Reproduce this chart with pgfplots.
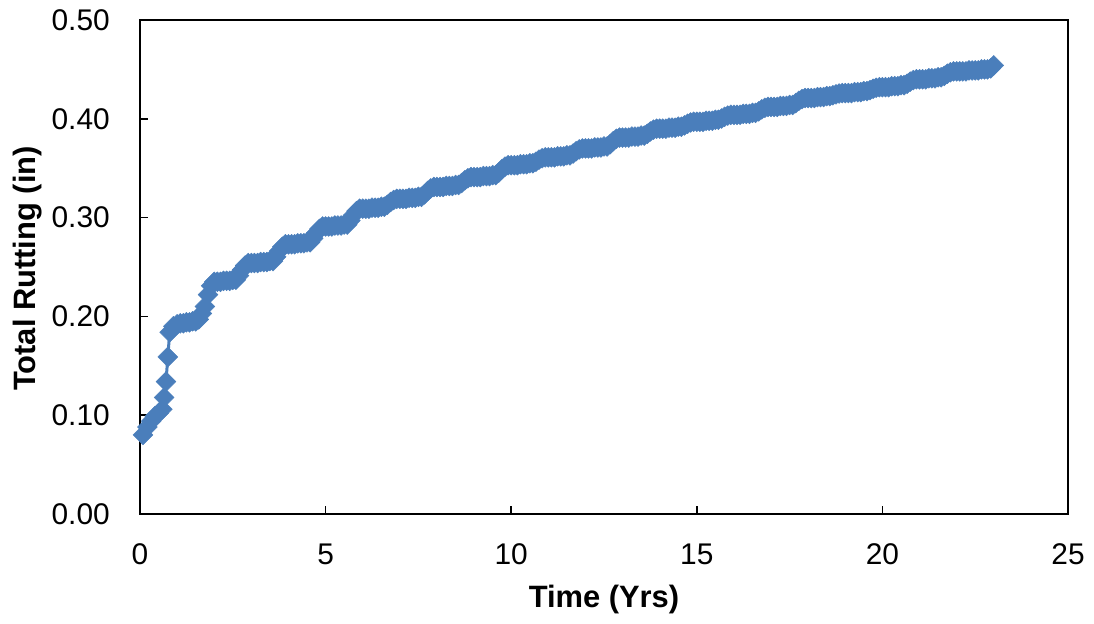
\documentclass[border=0pt]{standalone}
\usepackage{fontspec}
\setmainfont{Liberation Sans}
\usepackage{pgfplots}
\pgfplotsset{compat=1.18}
\definecolor{rutblue}{RGB}{74,126,187}
\begin{document}
\begin{tikzpicture}
\useasboundingbox (0,0) rectangle (1094bp,624bp);
\begin{axis}[
  at={(140bp,110bp)}, anchor=south west,
  width=928bp, height=494bp, scale only axis,
  xmin=0, xmax=25, ymin=0, ymax=0.5,
  xtick={0,5,...,25}, ytick={0,0.1,...,0.5},
  xtick pos=bottom, ytick pos=left, tick align=inside,
  major tick length=8bp,
  axis line style={line width=1.6bp},
  every tick/.style={black, line width=1.6bp},
  /pgf/number format/assume math mode=true,
  yticklabel style={/pgf/number format/fixed, /pgf/number format/fixed zerofill, /pgf/number format/precision=2},
  yticklabel style={anchor=east, inner sep=0pt, xshift=-30bp},
  xticklabel style={anchor=center, inner sep=0pt, yshift=-40bp},
  tick label style={font=\fontsize{30}{34}\selectfont},
  xlabel={Time (Yrs)}, ylabel={Total Rutting (in)},
  label style={font=\bfseries\fontsize{31}{36}\selectfont},
  xlabel style={at={(axis description cs:0.5,-0.174)}, anchor=center},
  ylabel style={at={(axis description cs:-0.1207,0.497)}, anchor=center},
]
\addplot[rutblue, line width=3bp, mark=square*, mark size=7bp,
  mark options={rotate=45, fill=rutblue, draw=rutblue, line width=0.5bp}] coordinates {
(0.08,0.080)(0.2,0.088)(0.3,0.094)(0.4,0.099)(0.5,0.102)(0.6,0.106)(0.65,0.118)(0.7,0.134)(0.75,0.159)(0.8,0.184)(0.9,0.190)(1.0,0.192)
(1.083,.193)(1.167,.193)(1.25,.194)(1.333,.194)(1.417,.195)(1.5,.195)(1.583,.197)(1.667,.203)(1.75,.210)(1.833,.222)(1.917,.231)(2,.235)
(2.083,.235)(2.167,.235)(2.25,.236)(2.333,.236)(2.417,.236)(2.5,.237)(2.583,.237)(2.667,.2413)(2.75,.2472)(2.833,.2515)(2.917,.254)(3,.254)
(3.083,.254)(3.167,.254)(3.25,.255)(3.333,.255)(3.417,.255)(3.5,.256)(3.583,.256)(3.667,.2603)(3.75,.2662)(3.833,.2705)(3.917,.273)(4,.273)
(4.083,.273)(4.167,.273)(4.25,.274)(4.333,.274)(4.417,.274)(4.5,.275)(4.583,.275)(4.667,.279)(4.75,.2846)(4.833,.2886)(4.917,.291)(5,.291)
(5.083,.291)(5.167,.291)(5.25,.292)(5.333,.292)(5.417,.292)(5.5,.293)(5.583,.293)(5.667,.297)(5.75,.3026)(5.833,.3066)(5.917,.309)(6,.309)
(6.083,.309)(6.167,.309)(6.25,.310)(6.333,.310)(6.417,.310)(6.5,.311)(6.583,.311)(6.667,.313)(6.75,.3158)(6.833,.3178)(6.917,.319)(7,.319)
(7.083,.319)(7.167,.319)(7.25,.320)(7.333,.320)(7.417,.320)(7.5,.321)(7.583,.321)(7.667,.3235)(7.75,.327)(7.833,.3295)(7.917,.331)(8,.331)
(8.083,.331)(8.167,.331)(8.25,.332)(8.333,.332)(8.417,.332)(8.5,.333)(8.583,.333)(8.667,.335)(8.75,.3378)(8.833,.3398)(8.917,.341)(9,.341)
(9.083,.341)(9.167,.341)(9.25,.342)(9.333,.342)(9.417,.342)(9.5,.343)(9.583,.343)(9.667,.3455)(9.75,.349)(9.833,.3515)(9.917,.353)(10,.353)
(10.083,.353)(10.167,.353)(10.25,.354)(10.333,.354)(10.417,.354)(10.5,.355)(10.583,.355)(10.667,.3565)(10.75,.3586)(10.833,.3601)(10.917,.361)(11,.361)
(11.083,.361)(11.167,.361)(11.25,.362)(11.333,.362)(11.417,.362)(11.5,.363)(11.583,.363)(11.667,.3648)(11.75,.3672)(11.833,.369)(11.917,.370)(12,.370)
(12.083,.370)(12.167,.370)(12.25,.371)(12.333,.371)(12.417,.371)(12.5,.372)(12.583,.372)(12.667,.3743)(12.75,.3774)(12.833,.3797)(12.917,.381)(13,.381)
(13.083,.381)(13.167,.381)(13.25,.382)(13.333,.382)(13.417,.382)(13.5,.383)(13.583,.383)(13.667,.3848)(13.75,.3872)(13.833,.389)(13.917,.390)(14,.390)
(14.083,.390)(14.167,.390)(14.25,.391)(14.333,.391)(14.417,.391)(14.5,.392)(14.583,.392)(14.667,.3933)(14.75,.395)(14.833,.3963)(14.917,.397)(15,.397)
(15.083,.397)(15.167,.397)(15.25,.398)(15.333,.398)(15.417,.398)(15.5,.399)(15.583,.399)(15.667,.4003)(15.75,.402)(15.833,.4033)(15.917,.404)(16,.404)
(16.083,.404)(16.167,.404)(16.25,.405)(16.333,.405)(16.417,.405)(16.5,.406)(16.583,.406)(16.667,.4075)(16.75,.4096)(16.833,.4111)(16.917,.412)(17,.412)
(17.083,.412)(17.167,.412)(17.25,.413)(17.333,.413)(17.417,.413)(17.5,.414)(17.583,.414)(17.667,.4158)(17.75,.4182)(17.833,.420)(17.917,.421)(18,.421)
(18.083,.421)(18.167,.421)(18.25,.422)(18.333,.422)(18.417,.422)(18.5,.423)(18.583,.423)(18.667,.4238)(18.75,.4248)(18.833,.4256)(18.917,.426)(19,.426)
(19.083,.426)(19.167,.426)(19.25,.427)(19.333,.427)(19.417,.427)(19.5,.428)(19.583,.428)(19.667,.429)(19.75,.4304)(19.833,.4314)(19.917,.432)(20,.432)
(20.083,.432)(20.167,.432)(20.25,.433)(20.333,.433)(20.417,.433)(20.5,.434)(20.583,.434)(20.667,.4355)(20.75,.4376)(20.833,.4391)(20.917,.440)(21,.440)
(21.083,.440)(21.167,.440)(21.25,.441)(21.333,.441)(21.417,.441)(21.5,.442)(21.583,.442)(21.667,.4435)(21.75,.4456)(21.833,.4471)(21.917,.448)(22,.448)
(22.083,.448)(22.167,.448)(22.25,.448)(22.333,.449)(22.417,.449)(22.5,.449)(22.583,.449)(22.667,.450)(22.75,.450)(22.833,.450)(22.917,.451)(23,.454)
};
\end{axis}
\end{tikzpicture}
\end{document}
